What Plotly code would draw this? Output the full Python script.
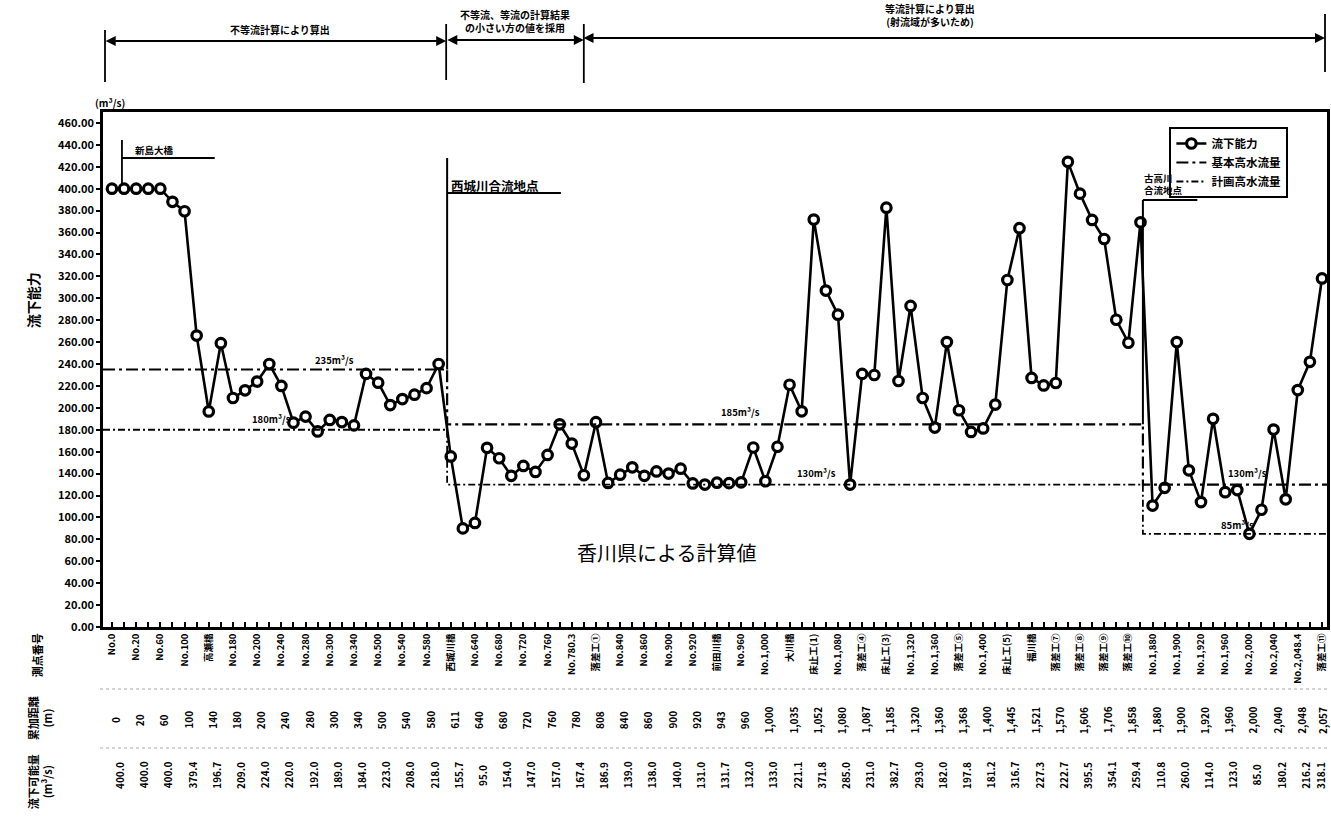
import plotly.graph_objects as go

# ---- survey stations along the channel -------------------------------------
stations = [
    "No.0", "No.20", "No.60", "No.100", "高瀬橋", "No.180", "No.200", "No.240",
    "No.280", "No.300", "No.340", "No.500", "No.540", "No.580", "西城川橋",
    "No.640", "No.680", "No.720", "No.760", "No.780.3", "落差工①", "No.840",
    "No.860", "No.900", "No.920", "前田川橋", "No.960", "No.1,000", "大川橋",
    "床止工(1)", "No.1,080", "落差工④", "床止工(3)", "No.1,320", "No.1,360",
    "落差工⑤", "No.1,400", "床止工(5)", "福川橋", "落差工⑦", "落差工⑧",
    "落差工⑨", "落差工⑩", "No.1,880", "No.1,900", "No.1,920", "No.1,960",
    "No.2,000", "No.2,040", "No.2,048.4", "落差工⑪",
]

# cumulative distance (m)
distances = [
    0, 20, 60, 100, 140, 180, 200, 240, 280, 300, 340, 500, 540, 580, 611,
    640, 680, 720, 760, 780, 808, 840, 860, 900, 920, 943, 960, 1000, 1035,
    1052, 1080, 1087, 1185, 1320, 1360, 1368, 1400, 1445, 1521, 1570, 1606,
    1706, 1858, 1880, 1900, 1920, 1960, 2000, 2040, 2048, 2057,
]

# flow capacity at each named station (m3/s)
capacity_station = [
    400.0, 400.0, 400.0, 379.4, 196.7, 209.0, 224.0, 220.0, 192.0, 189.0,
    184.0, 223.0, 208.0, 218.0, 155.7, 95.0, 154.0, 147.0, 157.0, 167.4,
    186.9, 139.0, 138.0, 140.0, 131.0, 131.7, 132.0, 133.0, 221.1, 371.8,
    285.0, 231.0, 382.7, 293.0, 182.0, 197.8, 181.2, 316.7, 227.3, 222.7,
    395.5, 354.1, 259.4, 110.8, 260.0, 114.0, 123.0, 85.0, 180.2, 216.2,
    318.1,
]

# flow capacity at the intermediate sections between stations (m3/s)
capacity_mid = [
    400.0, 400.0, 388.0, 266.0, 259.0, 216.0, 240.0, 186.5, 178.5, 187.0,
    231.0, 202.5, 212.0, 240.0, 90.0, 163.5, 138.0, 141.5, 185.0, 138.5,
    131.5, 145.7, 142.0, 144.5, 130.0, 131.3, 163.8, 164.5, 196.8, 307.0,
    130.0, 230.0, 224.5, 209.0, 260.0, 178.0, 203.0, 364.0, 220.5, 424.5,
    371.5, 280.4, 369.3, 127.0, 143.0, 190.0, 125.0, 107.0, 116.5, 242.0,
]

# design discharges per reach (m3/s) and reach boundaries (station index)
basic_flow = [235, 185, 130]      # 基本高水流量
planned_flow = [180, 130, 85]     # 計画高水流量
reach_bounds = [13.85, 42.6]

# ---- geometry ----------------------------------------------------------------
W, H = 1331, 817
L, R, T, B = 103, 1, 112, 190
PW, PH = W - L - R, H - T - B
YMAX = 470
XMIN = -0.37
XMAX = XMIN + PW / 24.26
BASE = H - B

FONT = "Noto Sans CJK JP, Noto Sans, sans-serif"
BOLD = dict(family=FONT, color="black", weight="bold")


def px(X):
    return (X - L) / PW


def py(Y):
    return (BASE - Y) / PH


def ix(X):
    return XMIN + (X - L) / PW * (XMAX - XMIN)


def vy(Y):
    return (BASE - Y) / PH * YMAX


def note(X, Y, text, size, **kw):
    """Text placed by pixel position in paper coordinates."""
    d = dict(x=px(X), y=py(Y), xref="paper", yref="paper", text=text,
             showarrow=False, xanchor="center", yanchor="middle",
             font=dict(BOLD, size=size))
    d.update(kw)
    return d


# interleave station and intermediate values into one profile
xs, ys = [], []
for i, v in enumerate(capacity_station):
    xs.append(i)
    ys.append(v)
    if i < len(capacity_mid):
        xs.append(i + 0.5)
        ys.append(capacity_mid[i])

step_x = [XMIN] + reach_bounds + [XMAX]

fig = go.Figure()
fig.add_trace(go.Scatter(
    x=xs, y=ys, mode="lines+markers", name="流下能力",
    line=dict(color="black", width=2.6),
    marker=dict(symbol="circle", size=9.5, color="white",
                line=dict(color="black", width=3.2)),
))
fig.add_trace(go.Scatter(
    x=step_x, y=basic_flow + [basic_flow[-1]], mode="lines", name="基本高水流量",
    line=dict(color="black", width=2.2, shape="hv", dash="12px,4px,3px,4px"),
))
fig.add_trace(go.Scatter(
    x=step_x, y=planned_flow + [planned_flow[-1]], mode="lines", name="計画高水流量",
    line=dict(color="black", width=1.8, shape="hv", dash="7px,3px,2px,3px"),
))

ann = []
shapes = []

# design discharge labels
for txt, X, val in [("235m³/s", 335, basic_flow[0] + 9),
                    ("180m³/s", 272, planned_flow[0] + 10),
                    ("185m³/s", 742, basic_flow[1] + 11),
                    ("130m³/s", 818, planned_flow[1] + 11),
                    ("130m³/s", 1250, basic_flow[2] + 11),
                    ("85m³/s", 1240, planned_flow[2] + 8)]:
    ann.append(dict(x=ix(X), y=val, xref="x", yref="y", text=txt,
                    xanchor="center", yanchor="middle",
                    showarrow=False, font=dict(BOLD, size=9.5)))

# landmarks inside the plot
shapes += [
    dict(type="line", xref="x", yref="y", x0=ix(122), x1=ix(122), y0=vy(140), y1=vy(186),
         line=dict(color="black", width=1.8)),
    dict(type="line", xref="x", yref="y", x0=ix(122), x1=ix(215), y0=vy(158), y1=vy(158),
         line=dict(color="black", width=1.8)),
    dict(type="line", xref="x", yref="y", x0=reach_bounds[0], x1=reach_bounds[0],
         y0=vy(158), y1=basic_flow[0], line=dict(color="black", width=2)),
    dict(type="line", xref="x", yref="y", x0=reach_bounds[0], x1=ix(562),
         y0=vy(193), y1=vy(193), line=dict(color="black", width=2)),
    dict(type="line", xref="x", yref="y", x0=reach_bounds[1], x1=reach_bounds[1],
         y0=vy(200), y1=basic_flow[1], line=dict(color="black", width=2)),
    dict(type="line", xref="x", yref="y", x0=reach_bounds[1], x1=ix(1200),
         y0=vy(200), y1=vy(200), line=dict(color="black", width=2)),
]
ann += [
    dict(x=ix(133), y=vy(150), xref="x", yref="y", text="新島大橋", xanchor="left",
         yanchor="middle", showarrow=False, font=dict(BOLD, size=9.5)),
    dict(x=ix(450), y=vy(185), xref="x", yref="y", text="西城川合流地点", xanchor="left",
         yanchor="middle", showarrow=False, font=dict(BOLD, size=12.5)),
    dict(x=ix(1145), y=vy(184), xref="x", yref="y", text="古高川<br>合流地点", xanchor="left",
         yanchor="middle", align="left", showarrow=False, font=dict(BOLD, size=9.5)),
    dict(x=ix(668), y=vy(552), xref="x", yref="y", text="香川県による計算値",
         xanchor="center", yanchor="middle",
         showarrow=False, font=dict(family=FONT, size=20, color="black")),
]

# calculation-method brackets above the chart
for X, y0, y1 in [(105, 30, 82), (447, 24, 80), (585, 24, 83), (1328, 14, 72)]:
    shapes.append(dict(type="line", xref="paper", yref="paper", x0=px(X), x1=px(X),
                       y0=py(y0), y1=py(y1), line=dict(color="black", width=1.8)))
for xa, xb, Y in [(105, 447, 41), (447, 585, 40), (585, 1328, 38)]:
    ann.append(dict(x=px(xb), y=py(Y), xref="paper", yref="paper", text="",
                    showarrow=True, axref="pixel", ayref="pixel", ax=xa - xb, ay=0,
                    arrowhead=2, arrowside="end+start", arrowsize=1, arrowwidth=2,
                    arrowcolor="black"))
ann += [
    note(280, 30, "不等流計算により算出", 10),
    note(516, 21, "不等流、等流の計算結果<br>の小さい方の値を採用", 10),
    note(932, 15, "等流計算により算出<br>(射流域が多いため)", 10),
]

# axis caption and unit
ann += [
    note(33, 300, "流下能力", 14, textangle=-90),
    note(110, 102, "(m³/s)", 10),
]

# table rows beneath the axis
last = len(distances) - 1
for i, (d, v) in enumerate(zip(distances, capacity_station)):
    ann.append(dict(x=i, y=py(720), xref="x", yref="paper", text=f"{d:,}",
                    textangle=-90, xshift=3 if i < last else 0,
                    xanchor="center", yanchor="middle",
                    showarrow=False, font=dict(BOLD, size=10)))
    ann.append(dict(x=i, y=py(775), xref="x", yref="paper", text=f"{v:.1f}",
                    textangle=-90, xshift=7 if i < last else -2,
                    xanchor="center", yanchor="middle",
                    showarrow=False, font=dict(BOLD, size=10)))
ann += [
    note(37, 655, "測点番号", 11, textangle=-90),
    note(40, 718, "累加距離<br>(m)", 11, textangle=-90),
    note(40, 782, "流下可能量<br>(m³/s)", 11, textangle=-90),
]
for Y in (689, 748):
    shapes.append(dict(type="line", xref="paper", yref="paper", x0=px(100), x1=1,
                       y0=py(Y), y1=py(Y), line=dict(color="#aaaaaa", width=1, dash="dot")))

fig.update_layout(
    width=W, height=H, autosize=False,
    margin=dict(l=L, r=R, t=T, b=B),
    paper_bgcolor="white", plot_bgcolor="white",
    font=dict(family=FONT, color="black"),
    showlegend=True,
    legend=dict(x=px(1172), y=py(127), xanchor="left", yanchor="top",
                bgcolor="white", bordercolor="black", borderwidth=2,
                font=dict(BOLD, size=11.5), itemwidth=30, tracegroupgap=0),
    annotations=ann, shapes=shapes,
)
fig.update_xaxes(
    range=[XMIN, XMAX], tickmode="array", tickvals=list(range(len(stations))),
    ticktext=stations, tickangle=-90, tickfont=dict(BOLD, size=9.5),
    ticks="inside", ticklen=5, tickwidth=1.5, tickcolor="black",
    minor=dict(ticks="inside", dtick=0.5, tick0=0, ticklen=5, tickwidth=1.5,
               tickcolor="black"),
    showline=True, linecolor="black", linewidth=2.5, mirror=True,
    showgrid=False, zeroline=False,
)
fig.update_yaxes(
    range=[0, YMAX], tickmode="array", tickvals=list(range(0, 461, 20)),
    tickformat=".2f", tickfont=dict(BOLD, size=11),
    ticks="outside", ticklen=4, tickwidth=1.5, tickcolor="black",
    showline=True, linecolor="black", linewidth=2.5, mirror=True,
    showgrid=False, zeroline=False,
)

fig.write_html("out.html")
